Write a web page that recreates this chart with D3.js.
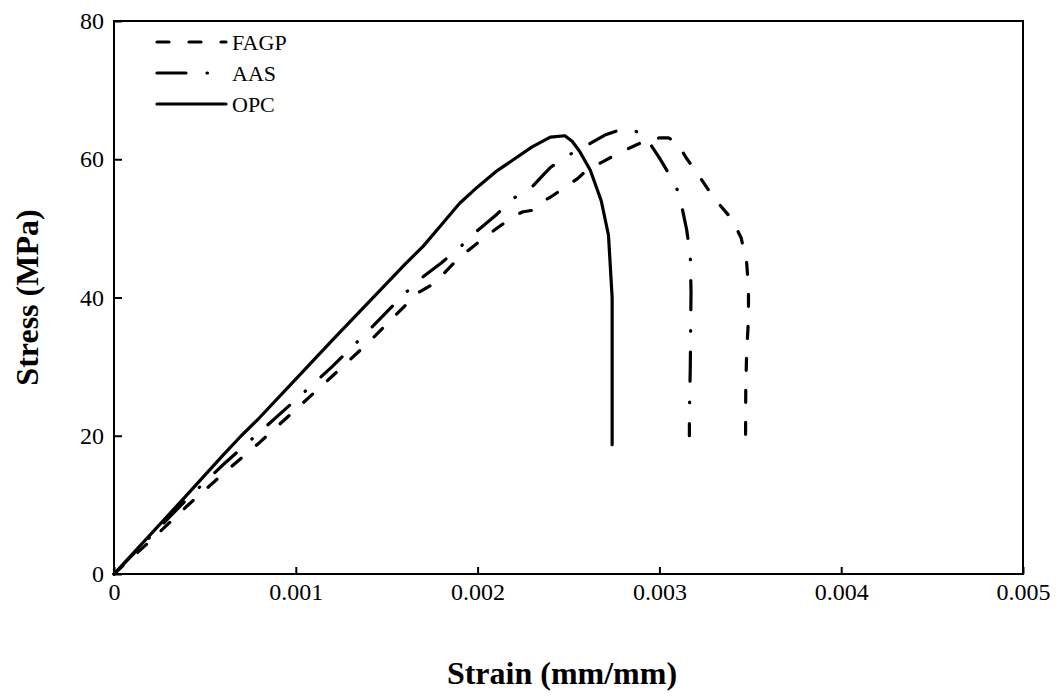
<!DOCTYPE html>
<html><head><meta charset="utf-8">
<script src="https://cdn.jsdelivr.net/npm/d3@7"></script>
<style>body{margin:0;background:#fff} text{font-family:'Liberation Serif','Times New Roman',serif}</style>
</head><body>
<script>
const xTicks = [0, 0.001, 0.002, 0.003, 0.004, 0.005];
const xTickLabels = ["0", "0.001", "0.002", "0.003", "0.004", "0.005"];
const yTicks = [0, 20, 40, 60, 80];
const seriesNames = ["FAGP", "AAS", "OPC"];

const fagpStrain = [0,0.0002,0.0004,0.0006,0.0008,0.001,0.0012,0.0014,0.0016,0.00168,0.00176,0.0019,0.002,0.0021,0.0022,0.00225,0.0023,0.00235,0.0024,0.0025,0.00255,0.0026,0.0027,0.0028,0.0029,0.003,0.00305,0.0031,0.00315,0.0032,0.0033,0.0034,0.00345,0.00348,0.00349,0.00349,0.00348,0.003475,0.003474];
const fagpStress = [0,4.8,9.8,14.5,19,23.8,28.6,33.5,38.8,40.8,42,45.8,47.9,49.9,51.8,52.4,52.6,53.8,54.5,56.3,57.2,58.4,59.8,61.2,62.4,63.1,63.1,62.3,60.1,58.3,54.4,51.3,48.6,45,41.5,37,32,27,20];

const aasStrain = [0,0.0002,0.0004,0.0006,0.0008,0.001,0.0012,0.0014,0.0016,0.0017,0.0018,0.0019,0.002,0.0021,0.0022,0.0023,0.00236,0.0024,0.0025,0.0026,0.0027,0.0028,0.00286,0.0029,0.00295,0.003,0.00305,0.0031,0.00312,0.00315,0.00317,0.003174,0.003172,0.00317,0.003165,0.003165];
const aasStress = [0,5.4,10.8,15.8,20.5,25.2,30,35.2,40.6,43,45,47.2,49.7,51.9,54.4,56,57.7,58.8,60.6,62,63.5,64.4,64.2,63.6,62.2,60.2,58,55.5,53.6,49.8,46,40.8,36,30,23,20];

const opcStrain = [0,0.0002,0.0004,0.0006,0.0007,0.0008,0.001,0.0012,0.0014,0.0016,0.0017,0.0018,0.0019,0.002,0.0021,0.0022,0.0023,0.0024,0.00248,0.00252,0.00256,0.00262,0.00268,0.00272,0.00274,0.00274];
const opcStress = [0,5.7,11.4,17.2,20,22.6,28.2,33.8,39.3,44.8,47.4,50.5,53.6,56,58.2,60,61.8,63.2,63.4,62.6,61.2,58.4,54,49,40,18.7];

const W = 1064, H = 697;
const m = {left:114, top:21, right:1023, bottom:574};
const svg = d3.select("body").append("svg").attr("width", W).attr("height", H);

const x = d3.scaleLinear().domain([0, 0.005]).range([m.left, m.right]);
const y = d3.scaleLinear().domain([0, 80]).range([m.bottom, m.top]);

svg.append("rect").attr("x", m.left).attr("y", m.top)
  .attr("width", m.right - m.left).attr("height", m.bottom - m.top)
  .attr("fill", "none").attr("stroke", "#000").attr("stroke-width", 2);

const xAxis = d3.axisBottom(x).tickValues(xTicks).tickSize(-7).tickPadding(9)
  .tickFormat((d, i) => xTickLabels[i]);
const gx = svg.append("g").attr("transform", `translate(0,${m.bottom})`).call(xAxis)
  .attr("font-family", null);
gx.select(".domain").remove();
gx.selectAll(".tick line").attr("stroke", "#000").attr("stroke-width", 2);
gx.selectAll(".tick text").attr("font-size", 24).attr("fill", "#000");

const yAxis = d3.axisLeft(y).tickValues(yTicks).tickSize(-8).tickPadding(10)
  .tickFormat(d3.format("d"));
const gy = svg.append("g").attr("transform", `translate(${m.left},0)`).call(yAxis)
  .attr("font-family", null);
gy.select(".domain").remove();
gy.selectAll(".tick line").attr("stroke", "#000").attr("stroke-width", 2);
gy.selectAll(".tick text").attr("font-size", 24).attr("fill", "#000");

const line = d3.line().x(d => x(d[0])).y(d => y(d[1]));
const series = [
  {name: seriesNames[0], data: d3.zip(fagpStrain, fagpStress), dash: "12,20"},
  {name: seriesNames[1], data: d3.zip(aasStrain, aasStress), dash: "29,21,0.5,21"},
  {name: seriesNames[2], data: d3.zip(opcStrain, opcStress), dash: null}
];
series.forEach(s => {
  svg.append("path").datum(s.data).attr("d", line)
    .attr("fill", "none").attr("stroke", "#000").attr("stroke-width", 3.2)
    .attr("stroke-linecap", "round").attr("stroke-linejoin", "round")
    .attr("stroke-dasharray", s.dash);
});

const legY = [42, 73, 104];
series.forEach((s, i) => {
  svg.append("line").attr("x1", 157).attr("x2", 226).attr("y1", legY[i]).attr("y2", legY[i])
    .attr("stroke", "#000").attr("stroke-width", 3.2).attr("stroke-linecap", "round")
    .attr("stroke-dasharray", s.dash);
  svg.append("text").attr("x", 232).attr("y", legY[i]).attr("dy", "0.35em")
    .attr("font-size", 22).text(s.name);
});

svg.append("text").attr("x", 562).attr("y", 684)
  .attr("text-anchor", "middle").attr("font-size", 32).attr("font-weight", "bold")
  .text("Strain (mm/mm)");
svg.append("text").attr("transform", `translate(38,${(m.top + m.bottom) / 2}) rotate(-90)`)
  .attr("text-anchor", "middle").attr("font-size", 32).attr("font-weight", "bold")
  .text("Stress (MPa)");
</script>
</body></html>
